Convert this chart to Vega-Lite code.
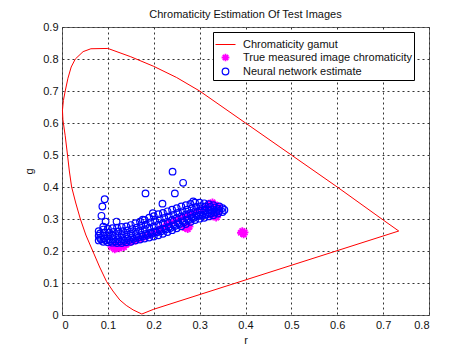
{
  "$schema": "https://vega.github.io/schema/vega-lite/v6.json",
  "width": 367,
  "height": 288,
  "autosize": "none",
  "padding": {"left": 62, "top": 27, "right": 45, "bottom": 39},
  "background": "white",
  "title": {"text": "Chromaticity Estimation Of Test Images", "fontSize": 11, "fontWeight": "normal", "font": "Liberation Sans", "color": "#111111", "offset": 1},
  "datasets": {
    "gamut": [
      {"i": 0, "r": 0.174, "g": 0.003}, {"i": 1, "r": 0.155, "g": 0.016}, {"i": 2, "r": 0.14, "g": 0.03},
      {"i": 3, "r": 0.126, "g": 0.047}, {"i": 4, "r": 0.111, "g": 0.075}, {"i": 5, "r": 0.097, "g": 0.105},
      {"i": 6, "r": 0.082, "g": 0.15}, {"i": 7, "r": 0.067, "g": 0.2}, {"i": 8, "r": 0.052, "g": 0.25},
      {"i": 9, "r": 0.04, "g": 0.3}, {"i": 10, "r": 0.03, "g": 0.35}, {"i": 11, "r": 0.021, "g": 0.4},
      {"i": 12, "r": 0.016, "g": 0.45}, {"i": 13, "r": 0.012, "g": 0.5}, {"i": 14, "r": 0.007, "g": 0.56},
      {"i": 15, "r": 0.002, "g": 0.61}, {"i": 16, "r": 0.001, "g": 0.64}, {"i": 17, "r": 0.003, "g": 0.67},
      {"i": 18, "r": 0.007, "g": 0.7}, {"i": 19, "r": 0.013, "g": 0.74}, {"i": 20, "r": 0.02, "g": 0.775},
      {"i": 21, "r": 0.029, "g": 0.8}, {"i": 22, "r": 0.046, "g": 0.823}, {"i": 23, "r": 0.063, "g": 0.832},
      {"i": 24, "r": 0.1, "g": 0.833}, {"i": 25, "r": 0.15, "g": 0.807}, {"i": 26, "r": 0.2, "g": 0.777},
      {"i": 27, "r": 0.25, "g": 0.742}, {"i": 28, "r": 0.3, "g": 0.7}, {"i": 29, "r": 0.4, "g": 0.6},
      {"i": 30, "r": 0.5, "g": 0.5}, {"i": 31, "r": 0.6, "g": 0.4}, {"i": 32, "r": 0.7, "g": 0.297},
      {"i": 33, "r": 0.734, "g": 0.2625}, {"i": 34, "r": 0.2, "g": 0.018}, {"i": 35, "r": 0.174, "g": 0.003}
    ],
    "pts": [
      {"series": "true", "r": 0.108, "g": 0.212}, {"series": "true", "r": 0.115, "g": 0.205}, {"series": "true", "r": 0.12, "g": 0.215},
      {"series": "true", "r": 0.125, "g": 0.208}, {"series": "true", "r": 0.13, "g": 0.218}, {"series": "true", "r": 0.135, "g": 0.212},
      {"series": "true", "r": 0.14, "g": 0.22}, {"series": "true", "r": 0.118, "g": 0.222}, {"series": "true", "r": 0.145, "g": 0.225},
      {"series": "true", "r": 0.15, "g": 0.228}, {"series": "true", "r": 0.16, "g": 0.232}, {"series": "true", "r": 0.17, "g": 0.238},
      {"series": "true", "r": 0.18, "g": 0.244}, {"series": "true", "r": 0.19, "g": 0.25}, {"series": "true", "r": 0.2, "g": 0.256},
      {"series": "true", "r": 0.21, "g": 0.262}, {"series": "true", "r": 0.215, "g": 0.27}, {"series": "true", "r": 0.222, "g": 0.275},
      {"series": "true", "r": 0.228, "g": 0.282}, {"series": "true", "r": 0.235, "g": 0.288}, {"series": "true", "r": 0.245, "g": 0.294},
      {"series": "true", "r": 0.255, "g": 0.3}, {"series": "true", "r": 0.265, "g": 0.306}, {"series": "true", "r": 0.275, "g": 0.312},
      {"series": "true", "r": 0.285, "g": 0.318}, {"series": "true", "r": 0.295, "g": 0.324}, {"series": "true", "r": 0.305, "g": 0.33},
      {"series": "true", "r": 0.315, "g": 0.336},
      {"series": "true", "r": 0.268, "g": 0.272}, {"series": "true", "r": 0.274, "g": 0.268}, {"series": "true", "r": 0.278, "g": 0.276},
      {"series": "true", "r": 0.27, "g": 0.278},
      {"series": "true", "r": 0.32, "g": 0.348}, {"series": "true", "r": 0.328, "g": 0.352}, {"series": "true", "r": 0.334, "g": 0.345},
      {"series": "true", "r": 0.325, "g": 0.342}, {"series": "true", "r": 0.34, "g": 0.34},
      {"series": "true", "r": 0.328, "g": 0.308}, {"series": "true", "r": 0.336, "g": 0.304}, {"series": "true", "r": 0.34, "g": 0.312},
      {"series": "true", "r": 0.332, "g": 0.314},
      {"series": "true", "r": 0.39, "g": 0.257}, {"series": "true", "r": 0.396, "g": 0.252}, {"series": "true", "r": 0.398, "g": 0.258},
      {"series": "true", "r": 0.393, "g": 0.262},
      {"series": "nn", "r": 0.08, "g": 0.233}, {"series": "nn", "r": 0.083, "g": 0.241}, {"series": "nn", "r": 0.08, "g": 0.248}, {"series": "nn", "r": 0.083, "g": 0.255}, {"series": "nn", "r": 0.08, "g": 0.262},
      {"series": "nn", "r": 0.09, "g": 0.229}, {"series": "nn", "r": 0.093, "g": 0.239}, {"series": "nn", "r": 0.09, "g": 0.248}, {"series": "nn", "r": 0.093, "g": 0.258}, {"series": "nn", "r": 0.09, "g": 0.267},
      {"series": "nn", "r": 0.1, "g": 0.227}, {"series": "nn", "r": 0.103, "g": 0.237}, {"series": "nn", "r": 0.1, "g": 0.247}, {"series": "nn", "r": 0.103, "g": 0.258}, {"series": "nn", "r": 0.1, "g": 0.269},
      {"series": "nn", "r": 0.11, "g": 0.226}, {"series": "nn", "r": 0.113, "g": 0.237}, {"series": "nn", "r": 0.11, "g": 0.248}, {"series": "nn", "r": 0.113, "g": 0.26}, {"series": "nn", "r": 0.11, "g": 0.271},
      {"series": "nn", "r": 0.12, "g": 0.225}, {"series": "nn", "r": 0.123, "g": 0.237}, {"series": "nn", "r": 0.12, "g": 0.249}, {"series": "nn", "r": 0.123, "g": 0.261}, {"series": "nn", "r": 0.12, "g": 0.273},
      {"series": "nn", "r": 0.13, "g": 0.225}, {"series": "nn", "r": 0.133, "g": 0.237}, {"series": "nn", "r": 0.13, "g": 0.25}, {"series": "nn", "r": 0.133, "g": 0.262}, {"series": "nn", "r": 0.13, "g": 0.275},
      {"series": "nn", "r": 0.14, "g": 0.227}, {"series": "nn", "r": 0.143, "g": 0.239}, {"series": "nn", "r": 0.14, "g": 0.252}, {"series": "nn", "r": 0.143, "g": 0.264}, {"series": "nn", "r": 0.14, "g": 0.277},
      {"series": "nn", "r": 0.15, "g": 0.229}, {"series": "nn", "r": 0.153, "g": 0.242}, {"series": "nn", "r": 0.15, "g": 0.255}, {"series": "nn", "r": 0.153, "g": 0.268}, {"series": "nn", "r": 0.15, "g": 0.281},
      {"series": "nn", "r": 0.16, "g": 0.233}, {"series": "nn", "r": 0.163, "g": 0.246}, {"series": "nn", "r": 0.16, "g": 0.26}, {"series": "nn", "r": 0.163, "g": 0.273}, {"series": "nn", "r": 0.16, "g": 0.287},
      {"series": "nn", "r": 0.17, "g": 0.236}, {"series": "nn", "r": 0.173, "g": 0.25}, {"series": "nn", "r": 0.17, "g": 0.264}, {"series": "nn", "r": 0.173, "g": 0.278}, {"series": "nn", "r": 0.17, "g": 0.292},
      {"series": "nn", "r": 0.18, "g": 0.239}, {"series": "nn", "r": 0.183, "g": 0.253}, {"series": "nn", "r": 0.18, "g": 0.268}, {"series": "nn", "r": 0.183, "g": 0.282}, {"series": "nn", "r": 0.18, "g": 0.297},
      {"series": "nn", "r": 0.19, "g": 0.242}, {"series": "nn", "r": 0.193, "g": 0.257}, {"series": "nn", "r": 0.19, "g": 0.273}, {"series": "nn", "r": 0.193, "g": 0.289}, {"series": "nn", "r": 0.19, "g": 0.304},
      {"series": "nn", "r": 0.2, "g": 0.245}, {"series": "nn", "r": 0.203, "g": 0.261}, {"series": "nn", "r": 0.2, "g": 0.277}, {"series": "nn", "r": 0.203, "g": 0.293}, {"series": "nn", "r": 0.2, "g": 0.309},
      {"series": "nn", "r": 0.21, "g": 0.249}, {"series": "nn", "r": 0.213, "g": 0.266}, {"series": "nn", "r": 0.21, "g": 0.282}, {"series": "nn", "r": 0.213, "g": 0.299}, {"series": "nn", "r": 0.21, "g": 0.315},
      {"series": "nn", "r": 0.22, "g": 0.254}, {"series": "nn", "r": 0.223, "g": 0.27}, {"series": "nn", "r": 0.22, "g": 0.287}, {"series": "nn", "r": 0.223, "g": 0.303}, {"series": "nn", "r": 0.22, "g": 0.319},
      {"series": "nn", "r": 0.23, "g": 0.259}, {"series": "nn", "r": 0.233, "g": 0.275}, {"series": "nn", "r": 0.23, "g": 0.292}, {"series": "nn", "r": 0.233, "g": 0.308}, {"series": "nn", "r": 0.23, "g": 0.324},
      {"series": "nn", "r": 0.24, "g": 0.265}, {"series": "nn", "r": 0.243, "g": 0.281}, {"series": "nn", "r": 0.24, "g": 0.297}, {"series": "nn", "r": 0.243, "g": 0.313}, {"series": "nn", "r": 0.24, "g": 0.329},
      {"series": "nn", "r": 0.25, "g": 0.271}, {"series": "nn", "r": 0.253, "g": 0.287}, {"series": "nn", "r": 0.25, "g": 0.303}, {"series": "nn", "r": 0.253, "g": 0.319}, {"series": "nn", "r": 0.25, "g": 0.334},
      {"series": "nn", "r": 0.26, "g": 0.277}, {"series": "nn", "r": 0.263, "g": 0.293}, {"series": "nn", "r": 0.26, "g": 0.308}, {"series": "nn", "r": 0.263, "g": 0.324}, {"series": "nn", "r": 0.26, "g": 0.339},
      {"series": "nn", "r": 0.27, "g": 0.284}, {"series": "nn", "r": 0.273, "g": 0.299}, {"series": "nn", "r": 0.27, "g": 0.314}, {"series": "nn", "r": 0.273, "g": 0.329}, {"series": "nn", "r": 0.27, "g": 0.343},
      {"series": "nn", "r": 0.28, "g": 0.291}, {"series": "nn", "r": 0.283, "g": 0.305}, {"series": "nn", "r": 0.28, "g": 0.319}, {"series": "nn", "r": 0.283, "g": 0.333}, {"series": "nn", "r": 0.28, "g": 0.347},
      {"series": "nn", "r": 0.29, "g": 0.297}, {"series": "nn", "r": 0.293, "g": 0.311}, {"series": "nn", "r": 0.29, "g": 0.324}, {"series": "nn", "r": 0.293, "g": 0.338}, {"series": "nn", "r": 0.29, "g": 0.351},
      {"series": "nn", "r": 0.3, "g": 0.301}, {"series": "nn", "r": 0.303, "g": 0.314}, {"series": "nn", "r": 0.3, "g": 0.327}, {"series": "nn", "r": 0.303, "g": 0.34}, {"series": "nn", "r": 0.3, "g": 0.351},
      {"series": "nn", "r": 0.31, "g": 0.304}, {"series": "nn", "r": 0.313, "g": 0.316}, {"series": "nn", "r": 0.31, "g": 0.327}, {"series": "nn", "r": 0.313, "g": 0.339}, {"series": "nn", "r": 0.31, "g": 0.349},
      {"series": "nn", "r": 0.32, "g": 0.308}, {"series": "nn", "r": 0.323, "g": 0.318}, {"series": "nn", "r": 0.32, "g": 0.328}, {"series": "nn", "r": 0.323, "g": 0.338}, {"series": "nn", "r": 0.32, "g": 0.346},
      {"series": "nn", "r": 0.33, "g": 0.312}, {"series": "nn", "r": 0.333, "g": 0.32}, {"series": "nn", "r": 0.33, "g": 0.328}, {"series": "nn", "r": 0.333, "g": 0.336}, {"series": "nn", "r": 0.33, "g": 0.343},
      {"series": "nn", "r": 0.34, "g": 0.317}, {"series": "nn", "r": 0.343, "g": 0.325}, {"series": "nn", "r": 0.34, "g": 0.332}, {"series": "nn", "r": 0.343, "g": 0.339},
      {"series": "nn", "r": 0.35, "g": 0.322}, {"series": "nn", "r": 0.354, "g": 0.328}, {"series": "nn", "r": 0.35, "g": 0.334},
      {"series": "nn", "r": 0.085, "g": 0.236}, {"series": "nn", "r": 0.096, "g": 0.233}, {"series": "nn", "r": 0.106, "g": 0.231}, {"series": "nn", "r": 0.116, "g": 0.23},
      {"series": "nn", "r": 0.126, "g": 0.23}, {"series": "nn", "r": 0.136, "g": 0.232}, {"series": "nn", "r": 0.146, "g": 0.234}, {"series": "nn", "r": 0.156, "g": 0.238},
      {"series": "nn", "r": 0.166, "g": 0.242}, {"series": "nn", "r": 0.176, "g": 0.246}, {"series": "nn", "r": 0.186, "g": 0.25}, {"series": "nn", "r": 0.196, "g": 0.254},
      {"series": "nn", "r": 0.206, "g": 0.258}, {"series": "nn", "r": 0.216, "g": 0.262}, {"series": "nn", "r": 0.226, "g": 0.267}, {"series": "nn", "r": 0.236, "g": 0.272},
      {"series": "nn", "r": 0.246, "g": 0.278}, {"series": "nn", "r": 0.256, "g": 0.284}, {"series": "nn", "r": 0.266, "g": 0.29}, {"series": "nn", "r": 0.276, "g": 0.297},
      {"series": "nn", "r": 0.286, "g": 0.303}, {"series": "nn", "r": 0.296, "g": 0.309}, {"series": "nn", "r": 0.306, "g": 0.311}, {"series": "nn", "r": 0.316, "g": 0.314},
      {"series": "nn", "r": 0.326, "g": 0.318}, {"series": "nn", "r": 0.336, "g": 0.322},
      {"series": "nn", "r": 0.241, "g": 0.448}, {"series": "nn", "r": 0.264, "g": 0.413}, {"series": "nn", "r": 0.182, "g": 0.38},
      {"series": "nn", "r": 0.246, "g": 0.38}, {"series": "nn", "r": 0.219, "g": 0.348}, {"series": "nn", "r": 0.093, "g": 0.362},
      {"series": "nn", "r": 0.088, "g": 0.339}, {"series": "nn", "r": 0.086, "g": 0.31}, {"series": "nn", "r": 0.095, "g": 0.292},
      {"series": "nn", "r": 0.119, "g": 0.292}, {"series": "nn", "r": 0.286, "g": 0.355}, {"series": "nn", "r": 0.176, "g": 0.298},
      {"series": "nn", "r": 0.09, "g": 0.276}, {"series": "nn", "r": 0.198, "g": 0.318}
    ]
  },
  "encoding": {
    "x": {"field": "r", "type": "quantitative", "scale": {"domain": [0, 0.8], "nice": false, "zero": false},
      "axis": {"title": "r", "values": [0, 0.1, 0.2, 0.3, 0.4, 0.5, 0.6, 0.7, 0.8], "format": "~g", "titlePadding": 4}},
    "y": {"field": "g", "type": "quantitative", "scale": {"domain": [0, 0.9], "nice": false, "zero": false},
      "axis": {"title": "g", "values": [0, 0.1, 0.2, 0.3, 0.4, 0.5, 0.6, 0.7, 0.8, 0.9], "format": "~g", "titlePadding": 8}}
  },
  "layer": [
    {
      "data": {"name": "gamut"},
      "mark": {"type": "line", "color": "#ff0000", "strokeWidth": 1},
      "encoding": {"order": {"field": "i", "type": "quantitative"}}
    },
    {
      "data": {"name": "pts"},
      "mark": {"type": "point", "filled": false, "opacity": 1},
      "encoding": {
        "color": {"field": "series", "type": "nominal",
          "scale": {"domain": ["gamut", "true", "nn"], "range": ["#ff0000", "#ff00ff", "#0000ff"]},
          "legend": {"labelExpr": "datum.label == 'gamut' ? 'Chromaticity gamut' : datum.label == 'true' ? 'True measured image chromaticity\u00a0\u00a0\u00a0\u00a0' : 'Neural network estimate'",
            "encode": {"symbols": {"update": {"stroke": {"scale": "color", "field": "value"}, "strokeWidth": {"value": 1}}}}}},
        "shape": {"field": "series", "type": "nominal",
          "scale": {"domain": ["gamut", "true", "nn"], "range": ["stroke", "M-1,0L1,0M0,-1L0,1M-0.7,-0.7L0.7,0.7M-0.7,0.7L0.7,-0.7", "circle"]},
          "legend": {"labelExpr": "datum.label == 'gamut' ? 'Chromaticity gamut' : datum.label == 'true' ? 'True measured image chromaticity\u00a0\u00a0\u00a0\u00a0' : 'Neural network estimate'"}},
        "size": {"field": "series", "type": "nominal",
          "scale": {"type": "ordinal", "domain": ["gamut", "true", "nn"], "range": [400, 60, 44]},
          "legend": {"labelExpr": "datum.label == 'gamut' ? 'Chromaticity gamut' : datum.label == 'true' ? 'True measured image chromaticity\u00a0\u00a0\u00a0\u00a0' : 'Neural network estimate'"}},
        "strokeWidth": {"field": "series", "type": "nominal",
          "scale": {"type": "ordinal", "domain": ["gamut", "true", "nn"], "range": [1, 1.8, 1.2]},
          "legend": null}
      }
    }
  ],
  "config": {
    "view": {"stroke": "#666666", "strokeWidth": 1},
    "axis": {"labelFont": "Liberation Sans", "labelFontSize": 11, "labelColor": "#111111",
      "titleFont": "Liberation Sans", "titleFontSize": 11, "titleFontWeight": "normal", "titleColor": "#111111",
      "ticks": false, "domain": false, "gridColor": "#333333", "gridDash": [2, 3], "gridWidth": 1, "gridOpacity": 1, "labelPadding": 4},
    "legend": {"orient": "none", "legendX": 151, "legendY": 5, "title": null, "strokeColor": "#000000", "fillColor": "#ffffff",
      "padding": 2, "labelFont": "Liberation Sans", "labelFontSize": 11, "labelColor": "#111111", "labelOffset": 7, "rowPadding": 0,
      "symbolStrokeWidth": 1, "labelLimit": 300}
  }
}
